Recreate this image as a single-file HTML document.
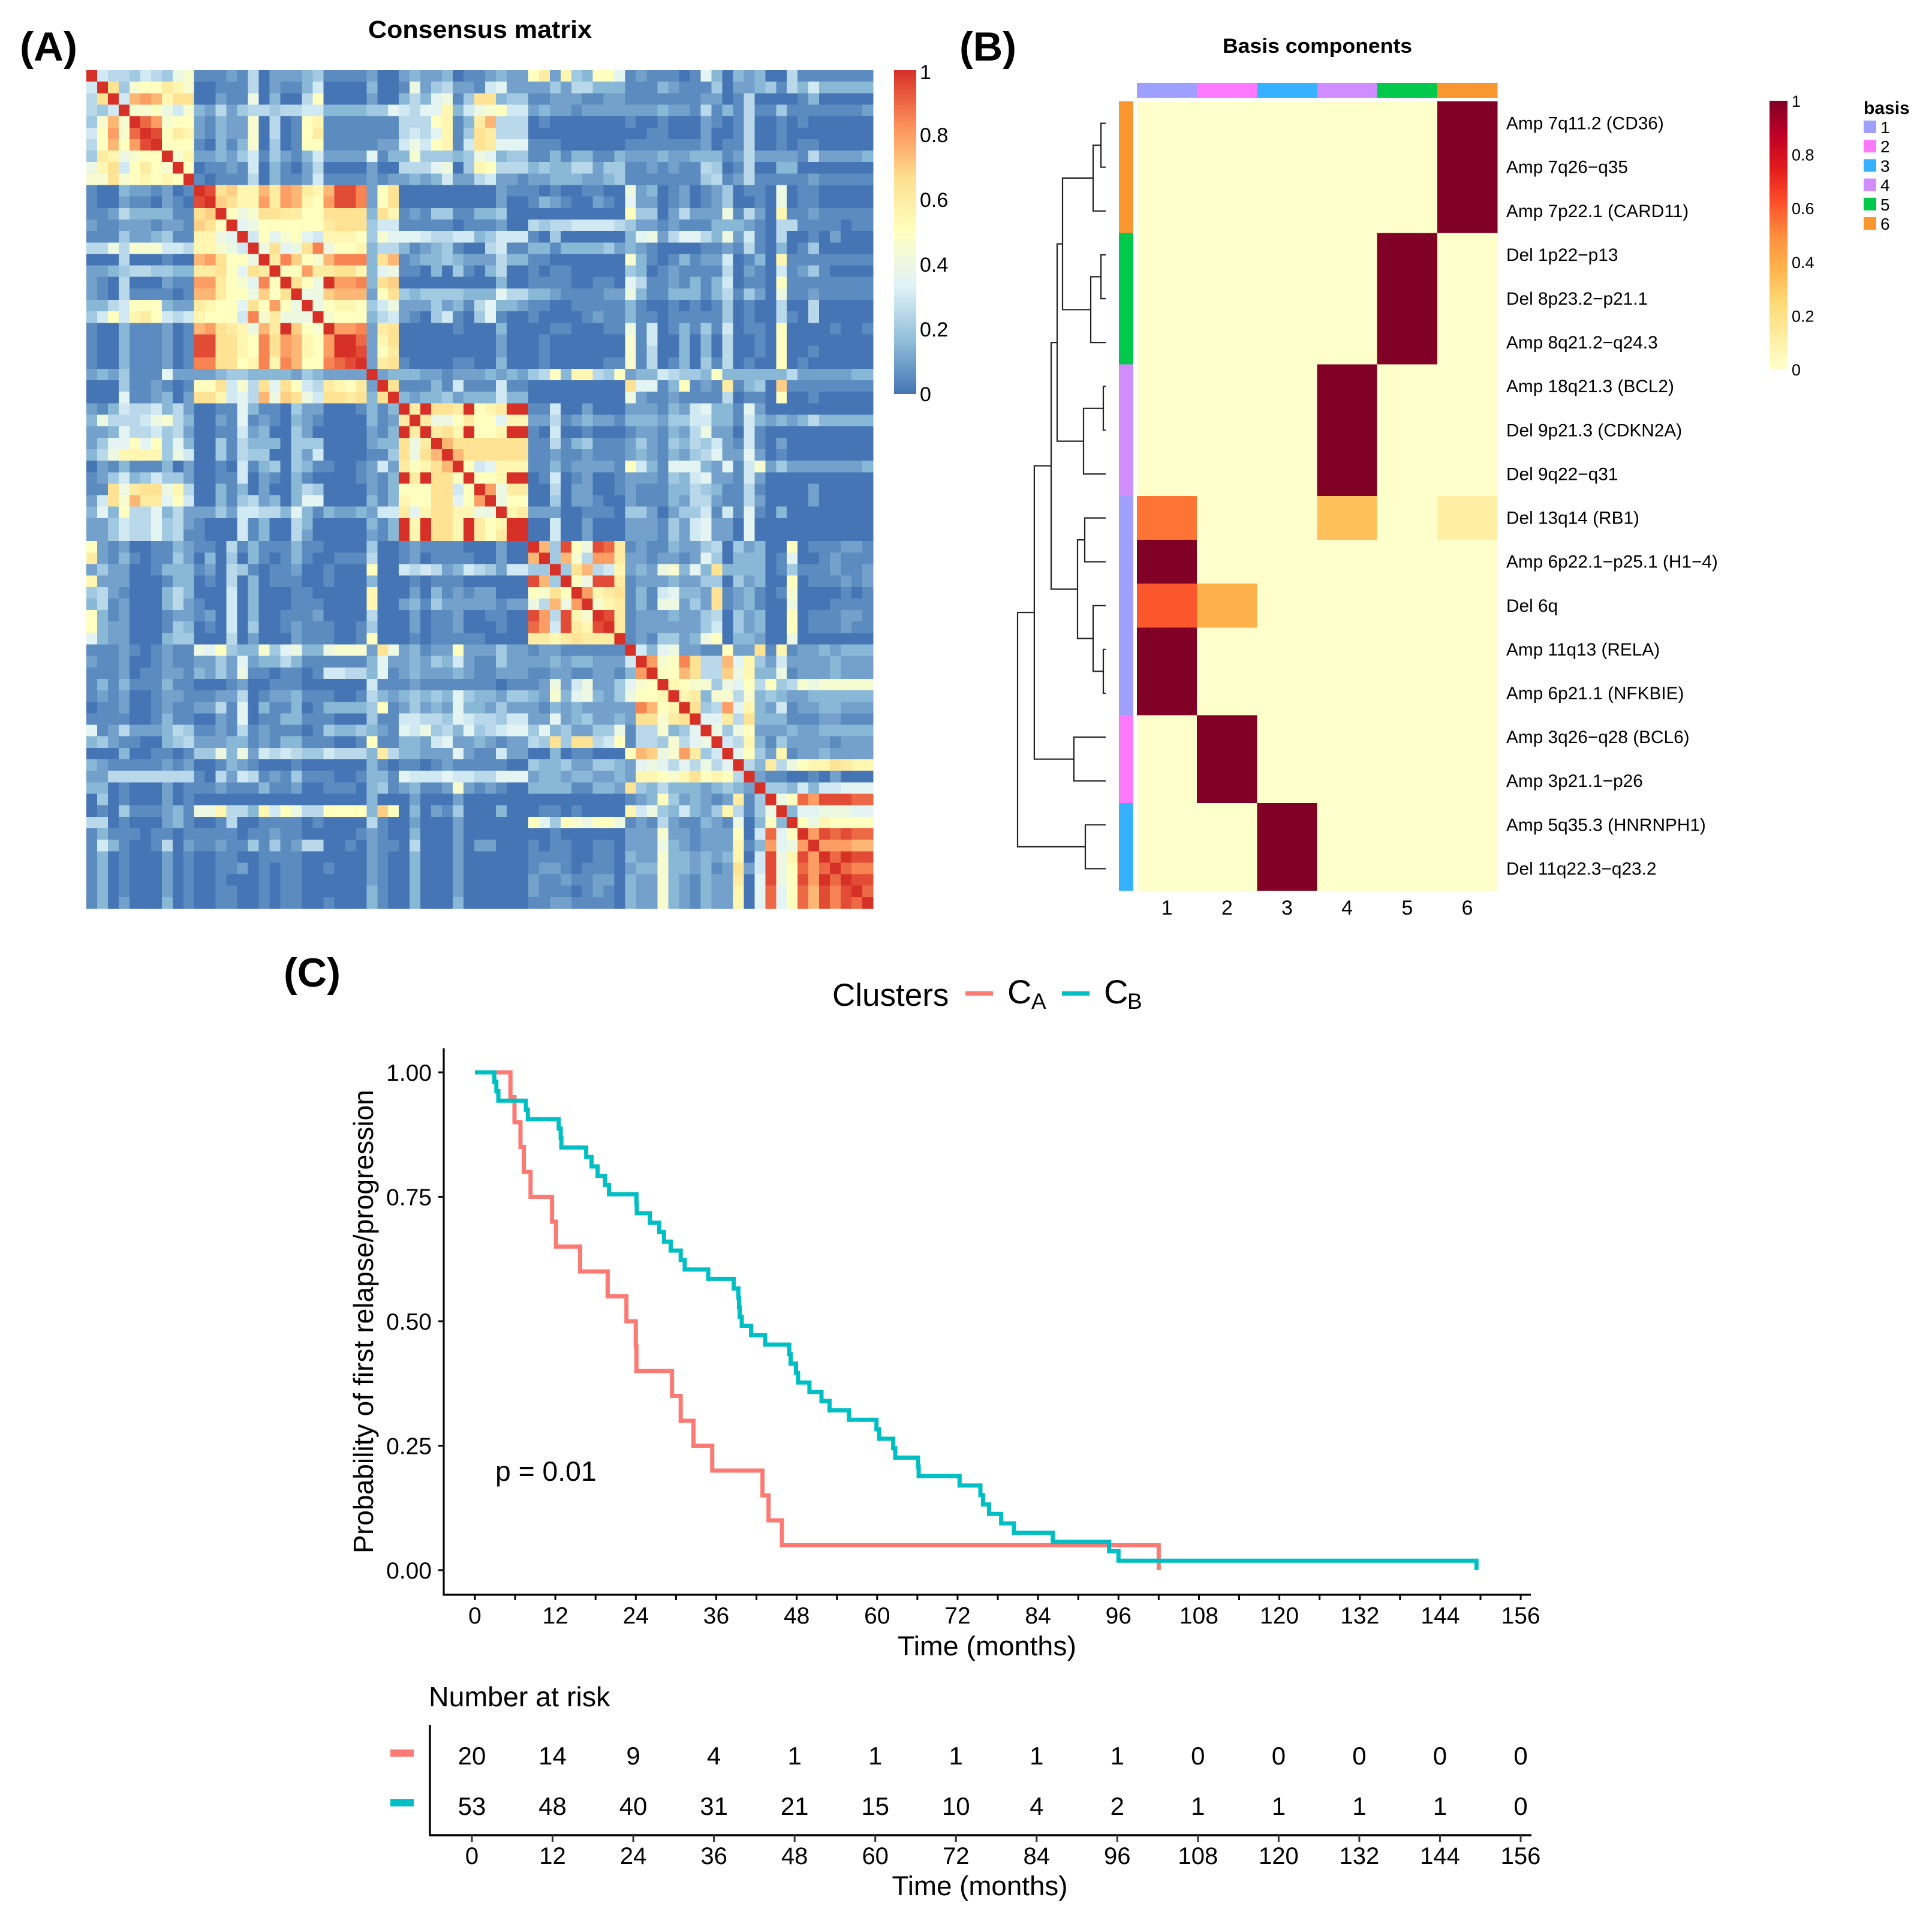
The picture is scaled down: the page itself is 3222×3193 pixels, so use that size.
<!DOCTYPE html>
<html lang="en">
<head>
<meta charset="utf-8">
<title>Consensus matrix, basis components and survival curves</title>
<style>
html,body{margin:0;padding:0;background:#fff;}
svg{display:block;}
text{font-family:"Liberation Sans",Arial,sans-serif;fill:#000;}
</style>
</head>
<body>
<svg id="fig" xmlns="http://www.w3.org/2000/svg" width="3222" height="3193" viewBox="0 0 3222 3193">
  <defs>
    <linearGradient id="gradA" x1="0" y1="1" x2="0" y2="0"></linearGradient>
    <linearGradient id="gradB" x1="0" y1="1" x2="0" y2="0"></linearGradient>
  </defs>
  <rect width="3222" height="3193" fill="#fff"/>

  <text x="33" y="101" font-size="68" font-weight="bold" textLength="96" lengthAdjust="spacingAndGlyphs">(A)</text>
  <text x="1600" y="101" font-size="68" font-weight="bold" textLength="95" lengthAdjust="spacingAndGlyphs">(B)</text>
  <text x="473" y="1645" font-size="68" font-weight="bold" textLength="95" lengthAdjust="spacingAndGlyphs">(C)</text>

  <text x="614" y="63" font-size="41" font-weight="bold" textLength="373" lengthAdjust="spacingAndGlyphs">Consensus matrix</text>
  <g id="matrix" shape-rendering="crispEdges"></g>
  <rect x="1491" y="117" width="37" height="540" fill="url(#gradA)"/>
  <g id="cbA"></g>

  <text x="2039" y="88" font-size="34" font-weight="bold" textLength="316" lengthAdjust="spacingAndGlyphs">Basis components</text>
  <g id="basisTop" shape-rendering="crispEdges"></g>
  <g id="basisLeft" shape-rendering="crispEdges"></g>
  <g id="basis" shape-rendering="crispEdges"></g>
  <g id="basisLabels"></g>
  <g id="dendro"></g>
  <rect x="2951" y="168" width="30" height="448" fill="url(#gradB)"/>
  <g id="cbB"></g>
  <text x="3108" y="190" font-size="30" font-weight="bold">basis</text>
  <g id="basisLegend"></g>

  <text x="1388" y="1677" font-size="53">Clusters</text>
  <line x1="1610" y1="1656.5" x2="1656" y2="1656.5" stroke="#FB7B74" stroke-width="7.5"/>
  <text x="1680" y="1673" font-size="56">C</text>
  <text x="1720" y="1682" font-size="37">A</text>
  <line x1="1771" y1="1656.5" x2="1817" y2="1656.5" stroke="#00BFC4" stroke-width="7.5"/>
  <text x="1841" y="1673" font-size="56">C</text>
  <text x="1880" y="1682" font-size="37">B</text>

  <g id="km"></g>
  <text transform="translate(622,2590) rotate(-90)" font-size="46" textLength="773" lengthAdjust="spacingAndGlyphs">Probability of first relapse/progression</text>
  <text x="1646" y="2760" font-size="45" text-anchor="middle" textLength="298" lengthAdjust="spacingAndGlyphs">Time (months)</text>
  <text x="826" y="2469" font-size="46.3">p = 0.01</text>

  <text x="715" y="2845" font-size="46.5">Number at risk</text>
  <rect x="651" y="2917" width="39" height="12" fill="#FB7B74"/>
  <rect x="651" y="3000" width="39" height="12" fill="#00BFC4"/>
  <g id="risk"></g>
  <text x="1634" y="3160" font-size="45" text-anchor="middle" textLength="293" lengthAdjust="spacingAndGlyphs">Time (months)</text>
</svg>

<script>
// ---------- Panel A data: upper triangle of the consensus matrix (0..k = 0..1 in 0.05 steps) ----------
const consensusRows = [
"k655465489 1112150222341111 200 232230112322 ac2b43aa7 12111017303230051111111",
"kd49aacb9 0011150211360000 300 182452216722 224255333 11132111 4 0 22341 536 33333",
"k6fgfbdd 0021180300 5a0000 200 353781 4dd344 112221122 11111112201 5 00001 3 00000",
"k99a869 3252455455663333 447 6577b3689a66 232212222 2223221 5 1 3 1 5 1 1 4 1 1111112",
"kig9aa 21322 9 0 5 0 1 a b 1111 111 555ab13cf555 010000000 1001000 2 1 0 1 5 0 0 1 01000000",
"kjacb 21322 9 0 5 0 1 a c 1111 111 565 7 b 1 4 d c 5 5 5 000000000 0011000 2 0 0 1 5 0 0 1 00000000",
"kaaa 10313 9 0 4 0 1 a a 1111 122 686 a b 1 6 d c 7 7 7 111000000 1111111 2 0 1 1 5 0 0 1 0 1 1 00000",
"k9b 2232461421362222 713 394443487344 113133113 2223223 3 3 1 2 5 2 2 2 2 1 5 22223",
"ka 0112160310250000 200 555780 4 b a 5 5 5 343355244 1121211 5 4 0 1 5 0 0 3 3 0000000",
"k 1011150311261111 212 232362256221 223332234 1111111 4 5 1 2 5 1 1 1 1 1 2 1 1 1 1 1",
"kjdebbfcgfcbfjjh 2ad 000000000211 101001100 8230120124 0 1 1 0 8 0 1 1 00000",
"kedbbgcgfbagjjh 2ad 000000000200 132100210 7220120124 0 0 1 0 8 0 1 1 00000",
"ka89ddccaadddd 3db 121441133400 000000000 a44025222 8 1 5 2 0 b 1 1 2 11111",
"k78aaaaaacddd 466 111110111200 545566665 4 2 2 1 2 1 1 1 3 3 3 2 1 0 5 5 1 1 1 1 0 1 1",
"k6a79a76bbba 497 776556 6 3 4 6 6 6 104000000 3 7 8 2 5 7 7 5 3 8 2 6 1 0 5 0 0 1 0 2 0 0 0",
"k8d78dh8aab 355 312341005611 331333342 3 2 1 0 0 0 0 1 1 2 1 5 1 0 3 0 1 4 0 0 0 0 0",
"kchea9fhhh 3df 123343222533 110000000 9 3 1 0 1 3 1 2 2 6 0 1 3 0 b 1 1 1 1 1 1 1 1",
"kaagccddb 378 110304103500 101100000 4 3 0 1 2 1 1 1 1 5 0 2 1 0 6 1 2 4 1 0 0 0 0",
"kda8kggh 3de 000000000300 111100110 7 5 1 1 2 1 3 1 3 6 0 1 1 0 a 1 1 1 1 1 1 1 1",
"k88efff 2ad 434444333755 332111122 8 3 1 1 3 3 3 1 3 5 1 4 2 0 8 1 1 2 1 1 1 1 1",
"k8abba 468 222423157332 110011111 3 1 0 0 1 0 1 0 1 4 0 1 0 0 5 0 0 5 0 0 0 0 0",
"k9aaa 356 210461047100 100001211 3 1 1 0 1 1 1 1 1 4 0 1 0 0 5 1 0 5 0 0 0 0 0",
"kggh 2cd 000001000300 001100011 8 1 6 0 1 3 1 4 1 6 0 1 1 0 a 0 0 0 0 1 0 0 1",
"kki 2bd 000000000200 010000000 9 1 6 0 0 3 0 3 0 5 0 0 1 0 a 0 0 0 0 0 0 0 0",
"kj 2ac 000000000200 010000000 9 1 5 0 0 3 0 3 0 5 0 0 1 0 a 0 0 1 0 0 0 0 0",
"k 2cd 100001100300 010000011 9 1 5 0 1 3 0 4 1 5 0 1 0 0 a 0 1 0 0 0 0 0 0",
"k23 332212223232 45a3bb54a 2 3 3 6 5 4 4 3 a 3 3 3 3 3 3 5 2 2 2 2 2 3 3",
"kd 111316111611 000000000 d 7 7 1 3 a 1 2 1 c 1 3 4 0 e 1 1 1 1 1 1 1 1",
"k 323342333633 000000000 8 2 1 1 2 1 1 1 1 5 0 1 1 0 a 0 0 1 0 0 0 0 0",
"kckddckabckk 116002000 2 2 2 1 3 2 6 7 3 3 1 7 2 0 0 0 0 0 0 0 0 0 0",
"kc88acaa7bb 225123221 3 3 3 2 4 4 6 6 3 3 1 6 3 2 3 2 3 5 3 3 3 3 3",
"kcdbkaabkk 106001000 1 2 2 1 3 2 5 8 2 2 0 6 1 0 0 0 0 0 0 0 0 0 0",
"kfddddddd 115134111 2 4 2 1 4 3 5 4 6 2 1 6 1 0 2 0 0 0 0 0 0 0 0",
"kfdddddd 112112111 2 3 2 1 3 2 4 5 7 2 2 7 2 0 1 0 0 0 0 0 0 0 0",
"ka67bbb 113122221 a 6 3 1 7 7 7 3 2 7 1 6 9 2 4 2 2 2 2 2 2 2 3",
"kaabkk 016012001 2 2 2 1 4 3 6 7 2 2 1 6 2 0 0 0 0 0 0 0 0 0 0",
"kg8cc 005022001 2 1 1 1 3 3 5 4 3 1 1 5 1 0 0 0 0 2 0 0 0 0 0",
"k8aa 004022100 2 1 1 1 3 2 5 5 2 1 1 5 2 0 0 0 0 2 0 0 0 0 0",
"kbc 222001110 4 4 2 0 2 4 4 6 1 6 1 7 1 0 3 0 0 0 0 0 0 0 0",
"kk 006002000 2 2 2 1 4 2 6 7 2 2 0 7 0 0 0 0 0 0 0 0 0 0 0",
"k 006002000 2 2 2 1 4 2 6 7 2 2 0 7 0 0 0 0 0 0 0 0 0 0 0",
"kf4ja8jic 1 2 1 1 3 2 2 4 5 0 4 2 3 0 0 a 0 1 1 1 2 2 1",
"k4f95ggc 2 2 1 2 2 1 2 7 4 0 3 3 3 0 1 7 0 0 1 2 1 1 1",
"k4df56b 2 3 2 8 9 3 7 3 d 3 3 3 3 0 1 4 1 1 1 2 1 1 2",
"ka8jjc 1 2 2 2 3 2 2 4 4 0 4 2 3 0 0 a 0 1 1 1 2 1 2",
"kgbcd 1 3 1 6 7 3 3 2 d 1 2 3 1 0 1 9 0 0 0 0 1 0 1",
"k9bc 1 3 1 8 8 2 4 2 d 1 2 3 1 0 0 8 0 0 0 1 1 1 1",
"kjc 1 2 2 2 3 2 2 4 5 0 4 2 3 0 0 a 0 1 1 1 2 2 1",
"kc 1 2 2 2 2 2 2 4 6 0 4 2 3 0 0 a 0 1 1 1 2 1 1",
"k 1 2 1 4 4 2 3 8 a 0 3 3 2 0 0 8 0 0 0 0 0 0 0",
"k 6 3 7 8 2 2 1 1 a 2 2 d 1 b 1 2 2 3 2 3 3 3",
"k g 9 a h d 5 5 f 7 b 4 2 6 2 2 2 2 3 2 2 2",
"k a a f d 5 5 e 8 b 3 3 8 1 2 2 2 3 2 2 2",
"k b a 9 9 4 8 7 a 5 a 4 5 9 8 9 9 9 9 9",
"k b c 3 9 9 5 9 3 4 3 2 2 3 3 3 3 3 3",
"k d 4 5 g 7 b 3 2 6 1 2 2 3 3 2 2 2",
"k 7 7 c 5 d 3 3 3 1 1 1 2 2 1 1 1",
"k 8 4 8 a 2 2 2 3 2 2 3 3 3 3 3",
"k 6 5 b 3 1 4 2 2 2 2 1 2 2 2",
"k 7 a 4 2 b 1 2 2 3 2 2 2 2",
"k 5 3 c 5 8 a b b d c b b",
"k 2 1 1 0 0 1 0 2 0 0 0",
"k 4 4 3 6 3 6 6 7 7 7",
"k 8 a i g j j j i i",
"k 3 7 7 8 8 8 7 7",
"k a 8 b a a a a",
"k g j i j i i",
"k g g g f f",
"k i k j j",
"k i h h",
"k j j",
"k i",
"k"
];
const consensusLevels = "0123456789abcdefghijk";
const consensusTicks = [0, 0.2, 0.4, 0.6, 0.8, 1];
const consensusTickLabels = ["0", "0.2", "0.4", "0.6", "0.8", "1"];

// ---------- Panel B data ----------
const basisRowNames = ["Amp 7q11.2 (CD36)","Amp 7q26−q35","Amp 7p22.1 (CARD11)","Del 1p22−p13","Del 8p23.2−p21.1","Amp 8q21.2−q24.3","Amp 18q21.3 (BCL2)","Del 9p21.3 (CDKN2A)","Del 9q22−q31","Del 13q14 (RB1)","Amp 6p22.1−p25.1 (H1−4)","Del 6q","Amp 11q13 (RELA)","Amp 6p21.1 (NFKBIE)","Amp 3q26−q28 (BCL6)","Amp 3p21.1−p26","Amp 5q35.3 (HNRNPH1)","Del 11q22.3−q23.2"];
const basisColumns = ["1","2","3","4","5","6"];
const basisValues = [
[0,0,0,0,0,1],[0,0,0,0,0,1],[0,0,0,0,0,1],
[0,0,0,0,1,0],[0,0,0,0,1,0],[0,0,0,0,1,0],
[0,0,0,1,0,0],[0,0,0,1,0,0],[0,0,0,1,0,0],
[0.55,0,0,0.33,0,0.11],[1,0,0,0,0,0],[0.61,0.38,0,0,0,0],[1,0,0,0,0,0],[1,0,0,0,0,0],
[0,1,0,0,0,0],[0,1,0,0,0,0],
[0,0,1,0,0,0],[0,0,1,0,0,0]
];
const basisRowGroups = [6,6,6,5,5,5,4,4,4,1,1,1,1,1,2,2,3,3];
const basisGroupColours = ["#9F9FFF","#FF79FF","#36B1FF","#D18CFF","#00C94B","#F89730"];
const basisTicks = [0, 0.2, 0.4, 0.6, 0.8, 1];
const basisTickLabels = ["0", "0.2", "0.4", "0.6", "0.8", "1"];
// hclust-style merges: non-negative = leaf row, negative = -(merge number)
const dendroLeft   = [0,-1,3,-3,-2,6,-6,-5,9,12,11,-9,-8,14,-13,16,-15];
const dendroRight  = [1,2,4,5,-4,7,8,-7,10,13,-10,-11,-12,15,-14,17,-16];
const dendroHeight = [0.054,0.143,0.054,0.17,0.49,0.027,0.252,0.551,0.238,0.027,0.143,0.32,0.619,0.361,0.81,0.231,1.0];

// ---------- Panel C data ----------
const caTimes = [5.3,5.9,6.8,7.3,8.3,11.5,12.1,15.7,19.8,22.6,24,24.1,29.4,30.7,32.6,35.4,42.9,43.8,45.8,102];
const caSurvival = [.95,.9,.85,.8,.75,.7,.65,.6,.55,.5,.45,.4,.35,.3,.25,.2,.15,.1,.05,0];
const cbTimes = [2.9,3.2,3.5,7.6,7.9,12.5,12.8,12.9,16.6,17.4,18.3,19.4,20,24.1,24.15,26.1,27.5,28.2,29.2,30.7,31.3,34.8,38.6,39.3,39.4,39.5,39.8,41.2,43.3,46.9,47.1,47.9,48.2,49.9,51.7,52.9,55.8,59.9,60.3,62.4,62.7,66.1,66.2,72.3,75.4,75.8,76.7,78.5,80.4,86.2,94.6,96,149.4];
const cbSurvival = [.981,.962,.943,.925,.906,.887,.868,.849,.83,.811,.792,.774,.755,.736,.717,.698,.679,.66,.642,.623,.604,.585,.566,.547,.528,.509,.491,.472,.453,.434,.415,.396,.377,.358,.34,.321,.302,.283,.264,.245,.226,.208,.189,.17,.151,.132,.113,.094,.075,.057,.038,.019,0];
const kmYTicks = [0, 0.25, 0.5, 0.75, 1];
const kmYTickLabels = ["0.00","0.25","0.50","0.75","1.00"];
const kmXMinorTicks = [0,6,12,18,24,30,36,42,48,54,60,66,72,78,84,90,96,102,108,114,120,126,132,138,144,150,156];
const kmXTicks = [0,12,24,36,48,60,72,84,96,108,120,132,144,156];
const riskCA = [20,14,9,4,1,1,1,1,1,0,0,0,0,0];
const riskCB = [53,48,40,31,21,15,10,4,2,1,1,1,1,0];

// ---------- helpers ----------
const NS = "http://www.w3.org/2000/svg";
function mk(tag, attrs, parent){
  const e = document.createElementNS(NS, tag);
  for (const k in attrs) e.setAttribute(k, attrs[k]);
  parent.appendChild(e);
  return e;
}
function hex(c){return [parseInt(c.slice(1,3),16),parseInt(c.slice(3,5),16),parseInt(c.slice(5,7),16)];}
function ramp(stops, v){
  const p = Math.max(0, Math.min(1, v)) * (stops.length - 1);
  const i = Math.min(Math.floor(p), stops.length - 2), f = p - i;
  const a = hex(stops[i]), b = hex(stops[i+1]);
  return "rgb(" + a.map((x,n)=>Math.round(x + (b[n]-x)*f)).join(",") + ")";
}
const rdYlBu = ["#4575B4","#91BFDB","#E0F3F8","#FFFFBF","#FEE090","#FC8D59","#D73027"];
const ylOrRd = ["#FFFFCC","#FFEDA0","#FED976","#FEB24C","#FD8D3C","#FC4E2A","#E31A1C","#BD0026","#800026"];
function fillGradient(id, stops){
  const g = document.getElementById(id);
  stops.forEach((c,i)=>{ mk("stop",{offset:(i/(stops.length-1)),"stop-color":c},g); });
}
fillGradient("gradA", rdYlBu);
fillGradient("gradB", ylOrRd);

// ---------- Panel A ----------
(function(){
  const g = document.getElementById("matrix");
  const n = consensusRows.length, L = 144, T = 117, W = 1312, H = 1398;
  const m = [];
  for (let i=0;i<n;i++) m.push(new Array(n).fill(0));
  consensusRows.forEach((row,i)=>{
    const s = row.replace(/\s/g,"");
    for (let k=0;k<s.length && i+k<n;k++){
      const v = consensusLevels.indexOf(s[k]) / 20;
      m[i][i+k] = v; m[i+k][i] = v;
    }
  });
  const cx = j => L + j*W/n, cy = i => T + i*H/n;
  for (let i=0;i<n;i++) for (let j=0;j<n;j++){
    const r = mk("rect",{x:cx(j).toFixed(2),y:cy(i).toFixed(2),width:(W/n+0.6).toFixed(2),height:(H/n+0.6).toFixed(2),fill:ramp(rdYlBu,m[i][j])},g);
    
    
  }
  const lg = document.getElementById("cbA");
  consensusTicks.forEach((v,i)=>{
    const t = mk("text",{x:1534,y:(657-540*v+(v===1?15:12)).toFixed(1),"font-size":34},lg);
    t.textContent = consensusTickLabels[i];
    
    
  });
})();

// ---------- Panel B ----------
(function(){
  const L = 1896, T = 169, cw = 601/6, rh = 1316/18;
  const cx = j => L + j*cw, cy = i => T + i*rh;
  const top = document.getElementById("basisTop");
  basisColumns.forEach((c,j)=>{
    const r = mk("rect",{x:cx(j).toFixed(2),y:138,width:(cw+0.5).toFixed(2),height:25,fill:basisGroupColours[j]},top);
    
    
  });
  const left = document.getElementById("basisLeft");
  basisRowGroups.forEach((grp,i)=>{
    const r = mk("rect",{x:1866,y:cy(i).toFixed(2),width:24,height:(rh+0.5).toFixed(2),fill:basisGroupColours[grp-1]},left);
    
    
  });
  const hm = document.getElementById("basis");
  basisValues.forEach((row,i)=>row.forEach((v,j)=>{
    const r = mk("rect",{x:cx(j).toFixed(2),y:cy(i).toFixed(2),width:(cw+0.5).toFixed(2),height:(rh+0.5).toFixed(2),fill:ramp(ylOrRd,v)},hm);
    
    
  }));
  const lb = document.getElementById("basisLabels");
  basisRowNames.forEach((name,i)=>{
    const t = mk("text",{x:2512,y:(cy(i)+rh/2+10).toFixed(1),"font-size":29.8},lb);
    t.textContent = name;
    
    
  });
  basisColumns.forEach((c,j)=>{
    const t = mk("text",{x:(cx(j)+cw/2).toFixed(1),y:1525,"font-size":34,"text-anchor":"middle"},lb);
    t.textContent = c;
    
    
  });
  // dendrogram
  const dg = document.getElementById("dendro");
  const leafX = 1844, span = 147;
  const hx = h => leafX - h*span;
  const ny = [];
  function nodeY(id){ return id >= 0 ? cy(id)+rh/2 : ny[-id-1]; }
  function nodeX(id){ return id >= 0 ? leafX : hx(dendroHeight[-id-1]); }
  dendroHeight.forEach((h,i)=>{
    const a = dendroLeft[i], b = dendroRight[i];
    const ya = nodeY(a), yb = nodeY(b), x = hx(h);
    ny[i] = (ya+yb)/2;
    const p = mk("path",{d:"M"+nodeX(a).toFixed(1)+" "+ya.toFixed(1)+"H"+x.toFixed(1)+"V"+yb.toFixed(1)+"H"+nodeX(b).toFixed(1),fill:"none",stroke:"#222","stroke-width":2.2},dg);
    
    
  });
  // colorbar labels
  const cb = document.getElementById("cbB");
  basisTicks.forEach((v,i)=>{
    const t = mk("text",{x:2988,y:(616-448*v+10).toFixed(1),"font-size":27},cb);
    t.textContent = basisTickLabels[i];
    
    
  });
  // legend
  const lg = document.getElementById("basisLegend");
  basisColumns.forEach((c,j)=>{
    const r = mk("rect",{x:3108,y:(201+32.2*j).toFixed(1),width:21,height:21,fill:basisGroupColours[j]},lg);
    
    
    const t = mk("text",{x:3136,y:(222+32.2*j).toFixed(1),"font-size":28},lg);
    t.textContent = c;
    
    
  });
})();

// ---------- Panel C ----------
(function(){
  const g = document.getElementById("km");
  const X = t => 792 + t*11.18, Y = s => 2618 - 830*s;
  const ax = mk("path",{d:"M740 1748V2659H2553",fill:"none",stroke:"#000","stroke-width":3.2},g);
  
  
  kmYTicks.forEach((v,i)=>{
    const l = mk("line",{x1:731,x2:740,y1:Y(v),y2:Y(v),stroke:"#000","stroke-width":3},g);
    
    
    const t = mk("text",{x:720,y:Y(v)+14,"font-size":39,"text-anchor":"end"},g);
    t.textContent = kmYTickLabels[i];
    
    
  });
  kmXMinorTicks.forEach(v=>{
    const l = mk("line",{x1:X(v),x2:X(v),y1:2659,y2:2668,stroke:"#000","stroke-width":3},g);
    
    
  });
  kmXTicks.forEach(v=>{
    const t = mk("text",{x:X(v),y:2707,"font-size":39,"text-anchor":"middle"},g);
    t.textContent = String(v);
    
    
  });
  function steps(times, surv){
    let d = "M"+X(0).toFixed(1)+" "+Y(1).toFixed(1);
    times.forEach((t,i)=>{ d += "H"+X(t).toFixed(1)+"V"+Y(surv[i]).toFixed(1); });
    return d;
  }
  const ca = mk("path",{d:steps(caTimes,caSurvival),fill:"none",stroke:"#FB7B74","stroke-width":7,"stroke-linejoin":"miter"},g);
  
  
  const cb = mk("path",{d:steps(cbTimes,cbSurvival),fill:"none",stroke:"#00BFC4","stroke-width":7,"stroke-linejoin":"miter"},g);
  
  

  // risk table
  const r = document.getElementById("risk");
  const RX = t => 787 + t*(2536-787)/156;
  const rax = mk("path",{d:"M717 2876V3060H2554",fill:"none",stroke:"#000","stroke-width":3.4},r);
  
  
  kmXTicks.forEach((v,i)=>{
    const l = mk("line",{x1:RX(v),x2:RX(v),y1:3060,y2:3071,stroke:"#333","stroke-width":3},r);
    
    
    const t = mk("text",{x:RX(v),y:3108,"font-size":40,"text-anchor":"middle"},r);
    t.textContent = String(v);
    
    
    const a = mk("text",{x:RX(v),y:2942,"font-size":42,"text-anchor":"middle"},r);
    a.textContent = String(riskCA[i]);
    
    
    const b = mk("text",{x:RX(v),y:3026,"font-size":42,"text-anchor":"middle"},r);
    b.textContent = String(riskCB[i]);
    
    
  });
})();
</script>
</body>
</html>
